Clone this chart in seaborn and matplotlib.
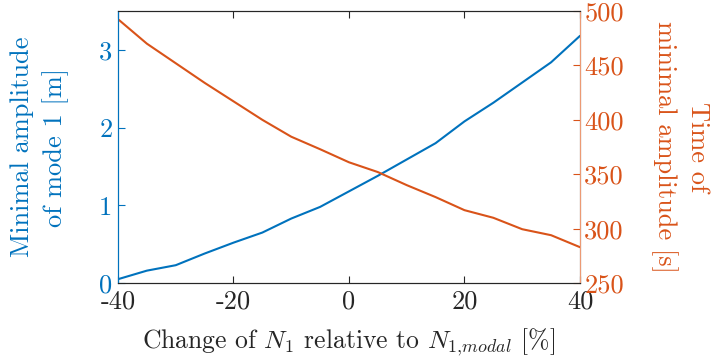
import matplotlib
matplotlib.use("Agg")
import matplotlib.pyplot as plt
import seaborn as sns
import pandas as pd

change_pct = [-40, -35, -30, -25, -20, -15, -10, -5, 0, 5, 10, 15, 20, 25, 30, 35, 40]
min_amplitude = [0.05, 0.16, 0.23, 0.38, 0.52, 0.65, 0.83, 0.98, 1.18, 1.38, 1.59, 1.80, 2.08, 2.32, 2.58, 2.84, 3.18]
time_min_amp = [492.5, 470, 452, 434, 417, 400, 384.5, 373, 361, 352, 340, 329, 317, 310, 299.5, 294, 283]

x_ticks = [-40, -20, 0, 20, 40]
left_ticks = [0, 1, 2, 3]
right_ticks = [250, 300, 350, 400, 450, 500]

sns.set_style("ticks")
plt.rcParams["font.family"] = ["cmr10", "DejaVu Serif"]
plt.rcParams["mathtext.fontset"] = "cm"
plt.rcParams["axes.unicode_minus"] = False
plt.rcParams["axes.formatter.use_mathtext"] = True

blue = "#0072BD"
orange = "#D95319"

df = pd.DataFrame({"x": change_pct, "amp": min_amplitude, "t": time_min_amp})

fig = plt.figure(figsize=(7.16, 3.62), dpi=100)
ax = fig.add_axes([0.1648, 0.218, 0.6452, 0.7516])
ax2 = ax.twinx()

sns.lineplot(data=df, x="x", y="amp", ax=ax, color=blue, lw=1.5)
sns.lineplot(data=df, x="x", y="t", ax=ax2, color=orange, lw=1.5)

ax.set_xlim(-40, 40)
ax.set_ylim(0, 3.5)
ax2.set_ylim(250, 500)
ax.set_xticks(x_ticks)
ax.set_xticklabels([str(v) for v in x_ticks])
ax.set_yticks(left_ticks)
ax.set_yticklabels([str(v) for v in left_ticks])
ax2.set_yticks(right_ticks)
ax2.set_yticklabels([str(v) for v in right_ticks])

ax.tick_params(axis="x", direction="in", top=True, length=5, width=0.8, colors="#262626", labelsize=19, pad=5)
ax.tick_params(axis="y", direction="in", length=5, width=0.8, colors=blue, labelsize=19, pad=4)
ax2.tick_params(axis="y", direction="in", length=5, width=0.8, colors=orange, labelsize=19, pad=3)

for a in (ax, ax2):
    for s in a.spines.values():
        s.set_visible(True)
        s.set_linewidth(0.8)
        s.set_color("#262626")
ax2.spines["left"].set_color(blue)
ax2.spines["right"].set_color("#EC9A74")
ax.spines["left"].set_color(blue)

ax.set_xlabel(r"Change of $N_1$ relative to $N_{1{,}modal}$ [%]", fontsize=18.5, color="#262626", labelpad=9)
ax.set_ylabel("Minimal amplitude\nof mode 1 [m]", fontsize=19, color=blue, labelpad=22, linespacing=1.4)
ax2.set_ylabel("Time of\nminimal amplitude [s]", fontsize=19, color=orange, rotation=270, labelpad=62, linespacing=1.4)

fig.savefig("out.png", dpi=100)
